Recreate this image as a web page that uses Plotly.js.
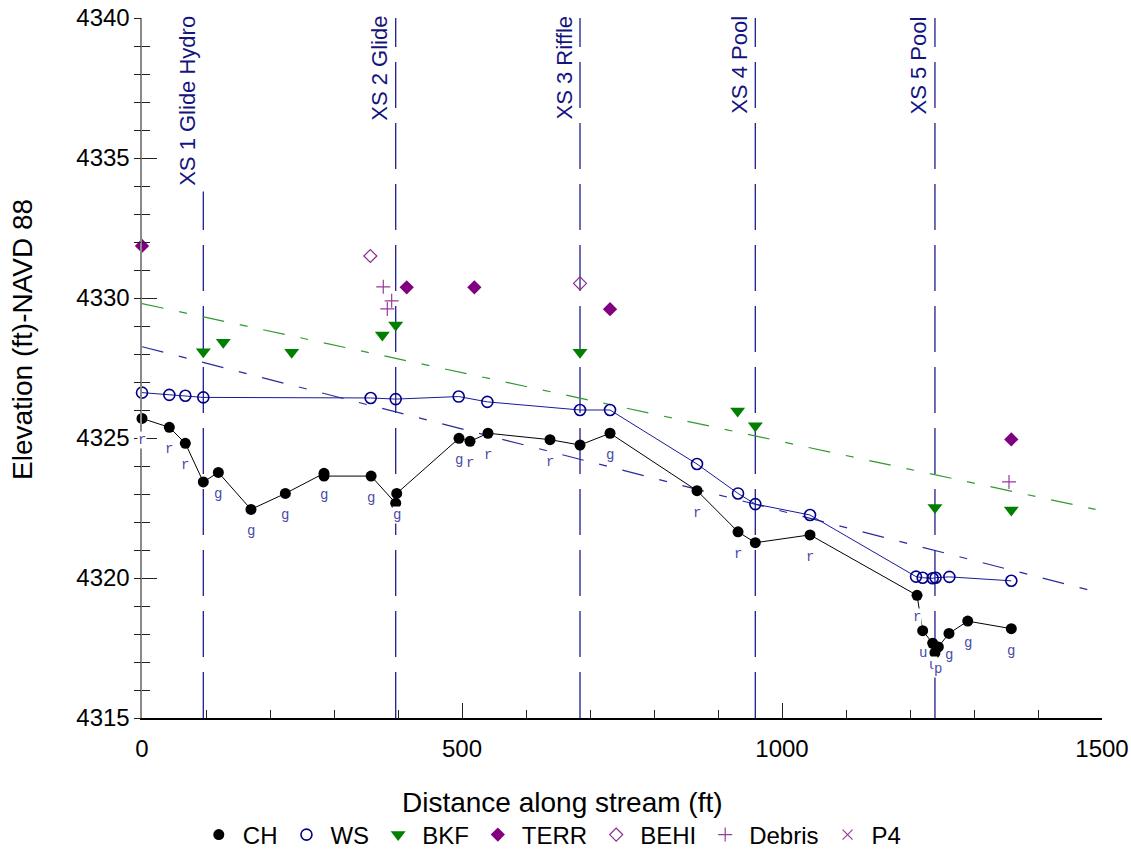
<!DOCTYPE html>
<html><head><meta charset="utf-8">
<script src="https://cdn.plot.ly/plotly-3.0.1.min.js"></script>
<style>body{margin:0;background:#fff}#chart{width:1131px;height:850px}</style>
</head><body><div id="chart"></div>
<script>
// ---- data ----
const chX = [0, 42.7, 67.7, 95.8, 119.3, 170.3, 224, 284.4, 284.4, 358, 396.4, 398, 495.3, 512.5, 540.6, 637.5, 684.4, 731.3, 867.2, 931.3, 958.3, 1043.8, 1211, 1219.8, 1235.4, 1239, 1244.3, 1260.9, 1290.2, 1358.3];
const chY = [4325.70, 4325.38, 4324.81, 4323.43, 4323.77, 4322.45, 4323.02, 4323.74, 4323.64, 4323.64, 4322.67, 4323.02, 4324.99, 4324.88, 4325.17, 4324.94, 4324.75, 4325.17, 4323.12, 4321.65, 4321.26, 4321.54, 4319.38, 4318.12, 4317.67, 4317.33, 4317.54, 4318.02, 4318.46, 4318.19];
const chLabels = ['r', 'r', 'r', '', 'g', 'g', 'g', 'g', '', 'g', '', 'g', 'g', 'r', 'r', 'r', '', 'g', 'r', 'r', '', 'r', 'r', 'u', 'u', '', 'p', 'g', 'g', 'g'];

const wsX = [0, 42.7, 67.7, 95.8, 357.3, 396.4, 494.8, 539.6, 684.4, 731.3, 867.2, 931.3, 958.3, 1043.8, 1209.4, 1219.8, 1235.4, 1240, 1261.5, 1358.3];
const wsY = [4326.62, 4326.54, 4326.51, 4326.45, 4326.43, 4326.39, 4326.48, 4326.29, 4326.0, 4326.0, 4324.07, 4323.02, 4322.64, 4322.25, 4320.05, 4320.01, 4319.99, 4320.01, 4320.04, 4319.90];

const bkfX = [95.8, 127, 233.9, 375.5, 396.4, 684.4, 930.7, 958.3, 1239, 1358.3];
const bkfY = [4328.08, 4328.42, 4328.06, 4328.68, 4329.04, 4328.06, 4325.96, 4325.44, 4322.52, 4322.43];

const terrX = [0, 413.6, 519.3, 731.3, 1358.3];
const terrY = [4331.86, 4330.38, 4330.38, 4329.60, 4324.95];

const behiX = [356.8, 684.4];
const behiY = [4331.50, 4330.52];

const debrisX = [377, 390.1, 383.3, 1354.7];
const debrisY = [4330.40, 4329.90, 4329.61, 4323.43];

const p4X = [null];
const p4Y = [null];

const xsNames = ['XS 1 Glide Hydro', 'XS 2 Glide', 'XS 3 Riffle', 'XS 4 Pool', 'XS 5 Pool'];
const xsPos = [95.8, 396.4, 684.4, 958.3, 1239];
const xsTop = [4333.8, 4340, 4340, 4340, 4340];
const xsBase = 4315;

const bkfTrendX = [0, 1490];
const bkfTrendY = [4329.8, 4322.45];
const chTrendX = [0, 1500];
const chTrendY = [4328.26, 4319.45];

const xRange = [0, 1500];
const yRange = [4315, 4340];

// ---- styles ----
const XS_COLOR = '#1f1f8c';
const LABEL_COLOR = '#4a4aa8';
const PURPLE = '#800080';
const FONT = 'Liberation Sans, Arial, sans-serif';
const traces = [];

xsPos.forEach((p, i) => {
  traces.push({
    x: [p, p], y: [xsBase, xsTop[i]], mode: 'lines', showlegend: false, hoverinfo: 'skip',
    line: {color: XS_COLOR, width: 1.3, dash: '46px,15px'}
  });
});
traces.push({x: bkfTrendX, y: bkfTrendY, mode: 'lines', showlegend: false, hoverinfo: 'skip',
  line: {color: '#2f9a2f', width: 1.2, dash: '22px,16px,8px,16px'}});
traces.push({x: chTrendX, y: chTrendY, mode: 'lines', showlegend: false, hoverinfo: 'skip',
  line: {color: '#2a2a9c', width: 1.2, dash: '22px,16px,8px,16px'}});

traces.push({x: chX, y: chY, mode: 'lines', showlegend: false, hoverinfo: 'skip',
  line: {color: '#000', width: 1}});
traces.push({x: wsX, y: wsY, mode: 'lines', showlegend: false, hoverinfo: 'skip',
  line: {color: '#1a1a99', width: 1}});

traces.push({name: 'CH', x: chX, y: chY, mode: 'markers', cliponaxis: false,
  marker: {color: '#000', size: 11, symbol: 'circle'}});
traces.push({name: 'WS', x: wsX, y: wsY, mode: 'markers', cliponaxis: false,
  marker: {color: '#00008b', size: 11, symbol: 'circle-open', line: {width: 1.6, color: '#00008b'}}});
traces.push({name: 'BKF', x: bkfX, y: bkfY, mode: 'markers', cliponaxis: false,
  marker: {color: '#007f00', size: 13, symbol: 'triangle-down'}});
traces.push({name: 'TERR', x: terrX, y: terrY, mode: 'markers', cliponaxis: false,
  marker: {color: PURPLE, size: 11, symbol: 'diamond'}});
traces.push({name: 'BEHI', x: behiX, y: behiY, mode: 'markers', cliponaxis: false,
  marker: {color: '#8f2a8f', size: 10, symbol: 'diamond-open', line: {width: 1.2, color: '#8f2a8f'}}});
traces.push({name: 'Debris', x: debrisX, y: debrisY, mode: 'markers', cliponaxis: false,
  marker: {color: '#9a3a9a', size: 10, symbol: 'cross-thin-open', line: {width: 1.2, color: '#9a3a9a'}}});
traces.push({name: 'P4', x: p4X, y: p4Y, mode: 'markers', cliponaxis: false,
  marker: {color: '#9a3a9a', size: 10, symbol: 'x-thin-open', line: {width: 1.2, color: '#9a3a9a'}}});
traces.push({x: [], y: [], yaxis: 'y2', showlegend: false, hoverinfo: 'skip'});

const annotations = [];
chX.forEach((x, i) => {
  if (!chLabels[i]) return;
  annotations.push({x: x, y: chY[i], xref: 'x', yref: 'y', text: chLabels[i], showarrow: false,
    yshift: -22, bgcolor: '#fff', borderpad: 0,
    font: {family: 'Liberation Mono, Courier New, monospace', size: 14, color: LABEL_COLOR}});
});
xsPos.forEach((p, i) => {
  annotations.push({x: p, y: yRange[1], xref: 'x', yref: 'y', text: xsNames[i], showarrow: false,
    textangle: -90, xanchor: 'right', yanchor: 'top', xshift: -2, yshift: 4,
    font: {family: FONT, size: 22, color: '#14147e'}});
});
annotations.push({x: 0.4385, y: -0.12, xref: 'paper', yref: 'paper', showarrow: false,
  text: 'Distance along stream (ft)', xanchor: 'center', yanchor: 'middle',
  font: {family: FONT, size: 28, color: '#000'}});
annotations.push({x: -0.125, y: 0.54, xref: 'paper', yref: 'paper', showarrow: false,
  text: 'Elevation (ft)-NAVD 88', textangle: -90, xanchor: 'center', yanchor: 'middle',
  font: {family: FONT, size: 28, color: '#000'}});

const tickFont = {family: FONT, size: 24, color: '#000'};
const layout = {
  width: 1131, height: 850,
  margin: {l: 142, r: 29, t: 18, b: 132, autoexpand: false},
  paper_bgcolor: '#fff', plot_bgcolor: '#fff',
  showlegend: true,
  legend: {orientation: 'h', x: 0.055, xanchor: 'left', y: -0.135, yanchor: 'top', itemwidth: 38,
    font: {family: FONT, size: 24, color: '#000'}, itemclick: false},
  xaxis: {range: xRange, showgrid: false, zeroline: false, showline: true, linecolor: '#000', linewidth: 1.5,
    ticks: 'inside', ticklen: 15, tickwidth: 1, tickcolor: '#222', dtick: 500, tick0: 0,
    minor: {dtick: 100, ticks: 'inside', ticklen: 8, tickcolor: '#222', showgrid: false},
    tickfont: tickFont, ticklabelstandoff: 9},
  yaxis: {range: yRange, showgrid: false, zeroline: false, showline: true, linecolor: '#8a8a8a', linewidth: 2.5,
    ticks: 'inside', ticklen: 15, tickwidth: 1, tickcolor: '#222', dtick: 5, tick0: 4315,
    minor: {dtick: 1, ticks: 'inside', ticklen: 8, tickcolor: '#222', showgrid: false},
    tickfont: tickFont, ticklabelstandoff: 5},
  yaxis2: {range: yRange, overlaying: 'y', side: 'left', showgrid: false, zeroline: false, showline: false,
    ticks: 'outside', ticklen: 7, tickwidth: 1, tickcolor: '#222', dtick: 5, tick0: 4315,
    minor: {dtick: 1, ticks: 'outside', ticklen: 7, tickcolor: '#222', showgrid: false},
    showticklabels: false},
  annotations: annotations
};
Plotly.newPlot('chart', traces, layout, {displayModeBar: false, staticPlot: true});
</script></body></html>
